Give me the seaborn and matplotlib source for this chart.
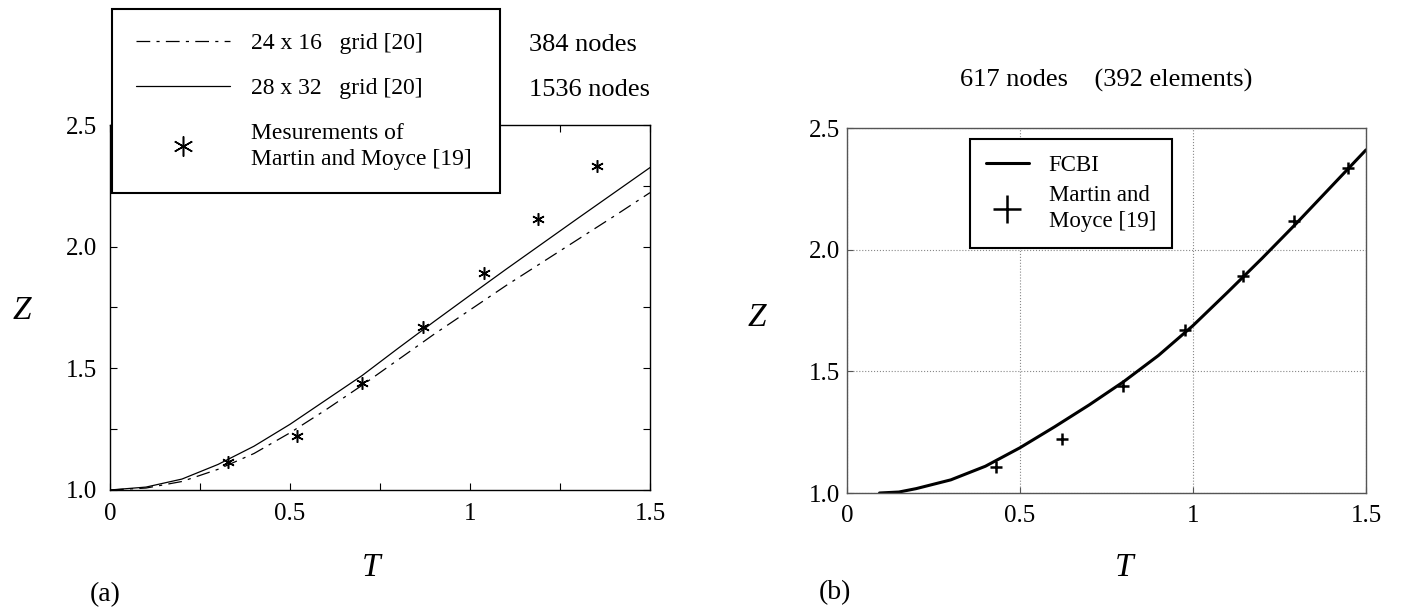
import numpy as np
import pandas as pd
import matplotlib
matplotlib.use("Agg")
import matplotlib.pyplot as plt
import seaborn as sns

# ---------------- data ----------------
# panel (a)
t_grid = [0.0, 0.1, 0.2, 0.3, 0.4, 0.5, 0.6, 0.7, 0.8, 0.9, 1.0, 1.1, 1.2, 1.3, 1.4, 1.5]
z_24x16 = [1.000, 1.008, 1.035, 1.085, 1.150, 1.235, 1.330, 1.430, 1.535, 1.640,
           1.740, 1.840, 1.935, 2.030, 2.125, 2.222]
z_28x32 = [1.000, 1.012, 1.045, 1.105, 1.180, 1.270, 1.370, 1.470, 1.582, 1.692,
           1.800, 1.907, 2.012, 2.117, 2.221, 2.325]
t_meas_a = [0.328, 0.519, 0.700, 0.870, 1.040, 1.190, 1.354]
z_meas_a = [1.115, 1.222, 1.440, 1.670, 1.893, 2.115, 2.333]

# panel (b)
t_fcbi = [0.094, 0.15, 0.2, 0.3, 0.4, 0.5, 0.6, 0.7, 0.8, 0.9, 1.0, 1.1, 1.2, 1.3, 1.4, 1.5]
z_fcbi = [1.000, 1.004, 1.018, 1.054, 1.110, 1.186, 1.272, 1.362, 1.458, 1.565,
          1.688, 1.825, 1.965, 2.110, 2.260, 2.410]
t_meas_b = [0.430, 0.620, 0.797, 0.977, 1.145, 1.293, 1.449]
z_meas_b = [1.107, 1.220, 1.438, 1.670, 1.893, 2.116, 2.335]

x_ticks = [0, 0.5, 1, 1.5]
x_ticklabels = ["0", "0.5", "1", "1.5"]
y_ticks = [1.0, 1.5, 2.0, 2.5]
y_ticklabels = ["1.0", "1.5", "2.0", "2.5"]

# ---------------- style ----------------
sns.set_theme(style="ticks")
plt.rcParams["font.family"] = ["Liberation Serif", "DejaVu Serif"]
plt.rcParams["axes.edgecolor"] = "black"
plt.rcParams["text.color"] = "black"
plt.rcParams["xtick.color"] = "black"
plt.rcParams["ytick.color"] = "black"

W, H = 1408, 610
fig = plt.figure(figsize=(W / 100, H / 100), dpi=100)
fig.patch.set_facecolor("white")


def fx(px):
    return px / W


def fy(py):
    return 1 - py / H


# axes rectangles from pixel coordinates
axA = fig.add_axes([fx(110), fy(490), fx(650) - fx(110), fy(125) - fy(490)])
axB = fig.add_axes([fx(847), fy(493), fx(1366) - fx(847), fy(128) - fy(493)])

dashdot = (0, (11, 5, 2.5, 5))

# ---------- panel (a) ----------
dfa = pd.DataFrame({"T": t_grid, "z16": z_24x16, "z32": z_28x32})
dma = pd.DataFrame({"T": t_meas_a, "Z": z_meas_a})
sns.lineplot(data=dfa, x="T", y="z16", ax=axA, color="black", lw=0.9,
             linestyle=dashdot, label="24 x 16   grid [20]")
sns.lineplot(data=dfa, x="T", y="z32", ax=axA, color="black", lw=0.9,
             label="28 x 32   grid [20]")
sns.lineplot(data=dma, x="T", y="Z", ax=axA, color="black", linestyle="none",
             marker=(6, 2, 0), markersize=9, markeredgewidth=1.1,
             markeredgecolor="black", markerfacecolor="black",
             label="Mesurements of\nMartin and Moyce [19]")

axA.set_xlim(0, 1.5)
axA.set_ylim(1.0, 2.5)
axA.set_xticks(x_ticks)
axA.set_xticklabels(x_ticklabels)
axA.set_yticks(y_ticks)
axA.set_yticklabels(y_ticklabels)
axA.set_xticks([0.25, 0.75, 1.25], minor=True)
axA.set_yticks([1.25, 1.75, 2.25], minor=True)
axA.tick_params(which="both", direction="in", top=True, right=True,
                length=5, width=0.8, labelsize=18)
axA.tick_params(axis="x", pad=9)
axA.tick_params(axis="y", pad=9)
axA.set_xlabel("")
axA.set_ylabel("")
for s in axA.spines.values():
    s.set_linewidth(1.0)
    s.set_color("black")

legA = axA.legend(loc="upper left",
                  bbox_to_anchor=(fx(112), fy(9) - 0.01, fx(500) - fx(112), 0.01),
                  bbox_transform=fig.transFigure, mode="expand", borderaxespad=0,
                  fontsize=17, frameon=True, fancybox=False, framealpha=1,
                  edgecolor="black", handlelength=4.0, handletextpad=0.9,
                  labelspacing=1.0, borderpad=1.0, markerscale=1.6)
legA.get_frame().set_linewidth(1.5)
for t in legA.get_texts():
    t.set_linespacing(1.3)

fig.text(fx(529), fy(45), "384 nodes", fontsize=19, va="center", ha="left")
fig.text(fx(529), fy(90), "1536 nodes", fontsize=19, va="center", ha="left")

# ---------- panel (b) ----------
dfb = pd.DataFrame({"T": t_fcbi, "Z": z_fcbi})
dmb = pd.DataFrame({"T": t_meas_b, "Z": z_meas_b})
sns.lineplot(data=dfb, x="T", y="Z", ax=axB, color="black", lw=2.2, label="FCBI")
sns.lineplot(data=dmb, x="T", y="Z", ax=axB, color="black", linestyle="none",
             marker="+", markersize=8, markeredgewidth=1.8,
             markeredgecolor="black", label="Martin and\nMoyce [19]")

axB.set_xlim(0, 1.5)
axB.set_ylim(1.0, 2.5)
axB.set_xticks(x_ticks)
axB.set_xticklabels(x_ticklabels)
axB.set_yticks(y_ticks)
axB.set_yticklabels(y_ticklabels)
axB.grid(True, linestyle=":", color="#888888", linewidth=0.8)
axB.tick_params(which="both", direction="in", length=4, width=0.8,
                labelsize=18, color="#555555")
axB.tick_params(axis="x", pad=9)
axB.tick_params(axis="y", pad=5)
axB.set_xlabel("")
axB.set_ylabel("")
for s in axB.spines.values():
    s.set_linewidth(1.0)
    s.set_color("#555555")

legB = axB.legend(loc="upper left", bbox_to_anchor=(fx(970), fy(139)),
                  bbox_transform=fig.transFigure, borderaxespad=0,
                  fontsize=16.5, frameon=True, fancybox=False, framealpha=1,
                  edgecolor="black", handlelength=1.9, handletextpad=0.85,
                  labelspacing=0.42, borderpad=0.68, markerscale=2.6)
legB.get_frame().set_linewidth(1.5)
for t in legB.get_texts():
    t.set_linespacing(1.3)

fig.text(fx(1106), fy(80), "617 nodes    (392 elements)", fontsize=19,
         ha="center", va="center")

# ---------- axis labels and panel tags ----------
fig.text(fx(22), fy(311), "Z", fontsize=24, style="italic", ha="center", va="center")
fig.text(fx(757), fy(318), "Z", fontsize=24, style="italic", ha="center", va="center")
fig.text(fx(371), fy(568), "T", fontsize=24, style="italic", ha="center", va="center")
fig.text(fx(1124), fy(568), "T", fontsize=24, style="italic", ha="center", va="center")
fig.text(fx(105), fy(595), "(a)", fontsize=20, ha="center", va="center")
fig.text(fx(835), fy(593), "(b)", fontsize=20, ha="center", va="center")

fig.savefig("out.png", dpi=100, facecolor="white")
